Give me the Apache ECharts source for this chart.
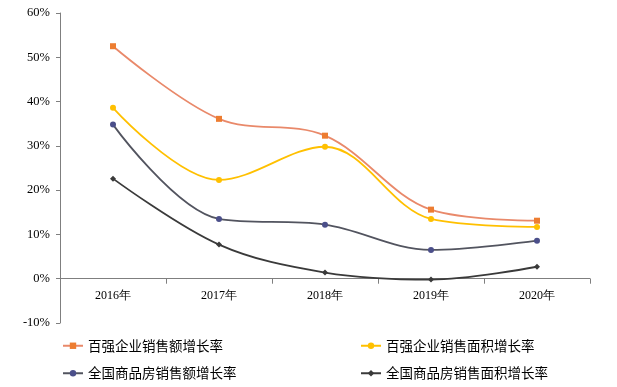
<!DOCTYPE html>
<html><head><meta charset="utf-8">
<script src="https://cdn.jsdelivr.net/npm/echarts@6/dist/echarts.min.js"></script>
<style>html,body{margin:0;padding:0;background:#fff}#c{width:617px;height:387px}</style>
</head><body><div id="c"></div>
<script>
const categories = ['2016年','2017年','2018年','2019年','2020年'];
const top100SalesGrowth = [52.5, 36.1, 32.3, 15.6, 13.1];
const top100AreaGrowth = [38.6, 22.3, 29.8, 13.5, 11.7];
const nationalSalesGrowth = [34.8, 13.5, 12.2, 6.5, 8.6];
const nationalAreaGrowth = [22.6, 7.7, 1.4, -0.2, 2.7];
const seriesNames = ['百强企业销售额增长率','百强企业销售面积增长率','全国商品房销售额增长率','全国商品房销售面积增长率'];

const chart = echarts.init(document.getElementById('c'));
const mk = (name, data, lineColor, markColor, symbol) => ({
  name, type: 'line', data, smooth: 0.35,
  symbol, symbolSize: 6,
  lineStyle: {color: lineColor, width: 1.8},
  itemStyle: {color: markColor},
  emphasis: {disabled: true}
});
const legendText = {fontFamily: 'Noto Sans CJK SC', fontSize: 13.5, color: '#000'};
chart.setOption({
  animation: false,
  grid: {left: 60, right: 27, top: 13, bottom: 64, containLabel: false},
  legend: [
    {orient: 'vertical', left: 57, top: 334, itemGap: 14, itemWidth: 20, itemHeight: 8,
     data: [seriesNames[0], seriesNames[2]], textStyle: legendText},
    {orient: 'vertical', left: 355, top: 334, itemGap: 14, itemWidth: 20, itemHeight: 8,
     data: [seriesNames[1], seriesNames[3]], textStyle: legendText}
  ],
  xAxis: {
    type: 'category', data: categories, boundaryGap: true,
    axisLine: {onZero: true, lineStyle: {color: '#7f7f7f', width: 1}},
    axisTick: {show: true, length: 5, lineStyle: {color: '#7f7f7f'}},
    axisLabel: {fontFamily: 'Liberation Serif', fontSize: 12, color: '#000', margin: -33}
  },
  yAxis: {
    type: 'value', min: -10, max: 60, interval: 10,
    axisLine: {show: true, lineStyle: {color: '#7f7f7f'}},
    axisTick: {show: true, length: 4, lineStyle: {color: '#7f7f7f'}},
    splitLine: {show: false},
    axisLabel: {formatter: '{value}%', fontFamily: 'Liberation Serif', fontSize: 12.5, color: '#000', margin: 10}
  },
  series: [
    mk(seriesNames[0], top100SalesGrowth, '#E9896A', '#ED7D31', 'rect'),
    mk(seriesNames[1], top100AreaGrowth, '#FFC000', '#FFC000', 'circle'),
    mk(seriesNames[2], nationalSalesGrowth, '#52545F', '#4B4F8A', 'circle'),
    mk(seriesNames[3], nationalAreaGrowth, '#3A3A3A', '#3A3A3A', 'diamond')
  ]
});
</script></body></html>
